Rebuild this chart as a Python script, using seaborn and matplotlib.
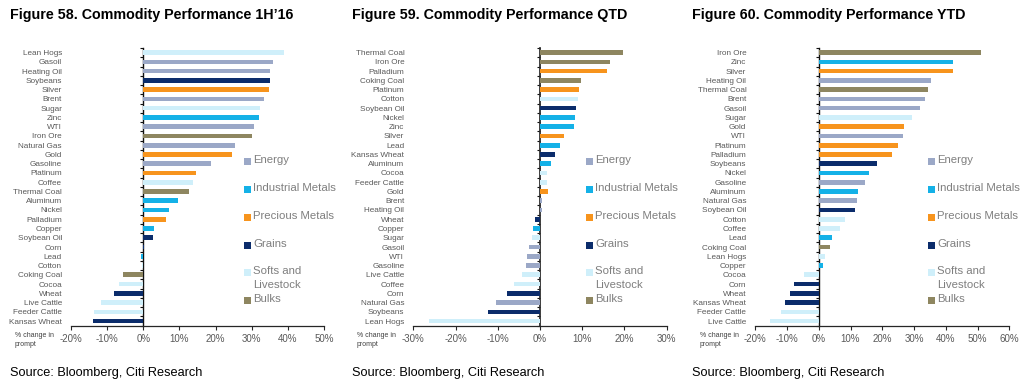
import numpy as np
import pandas as pd
import matplotlib
matplotlib.use('Agg')
import matplotlib.pyplot as plt
import seaborn as sns
from matplotlib.patches import Rectangle

sns.set_theme(style='white')
plt.rcParams['font.family'] = ['Liberation Sans', 'DejaVu Sans']

W, H = 1024, 384

# sectors
energy = ["Gasoil", "Heating Oil", "Brent", "WTI", "Natural Gas", "Gasoline"]
ind_metals = ["Zinc", "Aluminum", "Nickel", "Copper", "Lead"]
prec_metals = ["Silver", "Gold", "Platinum", "Palladium"]
grains = ["Soybeans", "Soybean Oil", "Corn", "Wheat", "Kansas Wheat"]
softs = ["Lean Hogs", "Sugar", "Coffee", "Cotton", "Cocoa", "Live Cattle", "Feeder Cattle"]
bulks = ["Iron Ore", "Thermal Coal", "Coking Coal"]

sectors = ["Energy", "Industrial Metals", "Precious Metals", "Grains", "Softs and Livestock", "Bulks"]
sector_colors = ["#9BA8C7", "#14B1E7", "#F7941D", "#0B2C6B", "#CFEFFA", "#8E8660"]

# Figure 58: 1H'16
h1_names = ["Lean Hogs", "Gasoil", "Heating Oil", "Soybeans", "Silver", "Brent", "Sugar", "Zinc",
            "WTI", "Iron Ore", "Natural Gas", "Gold", "Gasoline", "Platinum", "Coffee",
            "Thermal Coal", "Aluminum", "Nickel", "Palladium", "Copper", "Soybean Oil", "Corn",
            "Lead", "Cotton", "Coking Coal", "Cocoa", "Wheat", "Live Cattle", "Feeder Cattle",
            "Kansas Wheat"]
h1_vals = [38.8, 35.8, 35.1, 35.1, 34.8, 33.5, 32.4, 32.1, 30.6, 30.0, 25.3, 24.6, 18.6, 14.6,
           13.7, 12.7, 9.5, 7.1, 6.2, 2.9, 2.8, 0.1, -0.6, -0.4, -5.6, -6.6, -8.2, -11.8,
           -13.6, -13.8]

# Figure 59: QTD
qtd_names = ["Thermal Coal", "Iron Ore", "Palladium", "Coking Coal", "Platinum", "Cotton",
             "Soybean Oil", "Nickel", "Zinc", "Silver", "Lead", "Kansas Wheat", "Aluminum",
             "Cocoa", "Feeder Cattle", "Gold", "Brent", "Heating Oil", "Wheat", "Copper",
             "Sugar", "Gasoil", "WTI", "Gasoline", "Live Cattle", "Coffee", "Corn",
             "Natural Gas", "Soybeans", "Lean Hogs"]
qtd_vals = [19.7, 16.6, 15.9, 9.7, 9.3, 8.9, 8.5, 8.4, 8.1, 5.8, 4.8, 3.6, 2.6, 1.6, 1.6, 1.8,
            0.4, 0.4, -1.1, -1.6, -2.0, -2.7, -3.1, -3.2, -4.3, -6.2, -7.8, -10.3, -12.2,
            -26.4]

# Figure 60: YTD
ytd_names = ["Iron Ore", "Zinc", "Silver", "Heating Oil", "Thermal Coal", "Brent", "Gasoil",
             "Sugar", "Gold", "WTI", "Platinum", "Palladium", "Soybeans", "Nickel", "Gasoline",
             "Aluminum", "Natural Gas", "Soybean Oil", "Cotton", "Coffee", "Lead",
             "Coking Coal", "Lean Hogs", "Copper", "Cocoa", "Corn", "Wheat", "Kansas Wheat",
             "Feeder Cattle", "Live Cattle"]
ytd_vals = [51.0, 42.4, 42.3, 35.3, 34.5, 33.6, 31.8, 29.4, 26.7, 26.4, 25.0, 23.1, 18.3, 15.9,
            14.5, 12.3, 12.1, 11.3, 8.1, 6.7, 4.1, 3.5, 2.0, 1.3, -4.8, -7.9, -9.2, -10.7,
            -12.0, -15.4]

sector_of = {}
for sec, items in zip(sectors, [energy, ind_metals, prec_metals, grains, softs, bulks]):
    for c in items:
        sector_of[c] = sec
palette = dict(zip(sectors, sector_colors))

panels = [
    dict(title="Figure 58. Commodity Performance 1H\u201916", names=h1_names, vals=h1_vals,
         xlim=(-20, 50), left=71, width=253, tx=10, lx=244, px=15),
    dict(title="Figure 59. Commodity Performance QTD", names=qtd_names, vals=qtd_vals,
         xlim=(-30, 30), left=413.3, width=253.4, tx=352, lx=586, px=357),
    dict(title="Figure 60. Commodity Performance YTD", names=ytd_names, vals=ytd_vals,
         xlim=(-20, 60), left=755.3, width=254, tx=692, lx=928, px=700),
]

top, bottom = 48, 325.7

fig = plt.figure(figsize=(W / 100, H / 100), dpi=100)
fig.patch.set_facecolor('white')

for p in panels:
    ax = fig.add_axes([p['left'] / W, 1 - bottom / H, p['width'] / W, (bottom - top) / H])
    df = pd.DataFrame({'name': p['names'], 'val': p['vals']})
    df['sector'] = df['name'].map(sector_of)
    sns.barplot(data=df, x='val', y='name', hue='sector', palette=palette, hue_order=sectors,
                order=p['names'], dodge=False, width=0.5, saturation=1, linewidth=0,
                legend=False, orient='h', ax=ax)
    n = len(p['names'])
    lo, hi = p['xlim']
    ax.set_xlim(lo, hi)
    ax.set_ylim(n - 0.5, -0.5)
    ticks = np.arange(lo, hi + 1, 10)
    ax.set_xticks(ticks)
    ax.set_xticklabels([f"{t}%" for t in ticks])
    ax.set_xlabel('')
    ax.set_ylabel('')
    for s in ['top', 'right', 'left']:
        ax.spines[s].set_visible(False)
    ax.spines['bottom'].set_color('#262626')
    ax.spines['bottom'].set_linewidth(0.9)
    ax.tick_params(axis='x', bottom=True, direction='out', length=3, width=0.8, color='#262626',
                   labelsize=7, labelcolor='#595959', pad=3)
    ax.tick_params(axis='y', left=False, length=0, labelsize=5.9, labelcolor='#595959', pad=6.5)

    # zero line with category separators
    sec_ax = ax.secondary_yaxis(location=(0 - lo) / (hi - lo))
    sec_ax.set_yticks(np.arange(-0.5, n, 1), labels=[''] * (n + 1))
    sec_ax.yaxis.set_ticks_position('left')
    sec_ax.tick_params(axis='y', length=2.5, width=0.8, color='#111111', labelleft=False,
                       labelright=False, direction='out')
    sec_ax.spines['left'].set_color('#111111')
    sec_ax.spines['left'].set_linewidth(1.0)

    # titles and notes
    fig.text(p['tx'] / W, 1 - 15 / H, p['title'], fontsize=10.3, fontweight='bold',
             va='center', ha='left', color='black')
    fig.text(p['tx'] / W, 1 - 373 / H, "Source: Bloomberg, Citi Research", fontsize=9.2,
             va='center', ha='left', color='black')
    fig.text(p['px'] / W, 1 - 332 / H, "% change in\nprompt", fontsize=5, va='top', ha='left',
             color='#404040', linespacing=1.3)

    # legend
    for i, (sec, col) in enumerate(zip(sectors, sector_colors)):
        yc = 161.7 + 27.8 * i
        fig.add_artist(Rectangle((p['lx'] / W, 1 - (yc + 3.5) / H), 7 / W, 7 / H,
                                 transform=fig.transFigure, facecolor=col, edgecolor='none'))
        label = "Softs and\nLivestock" if sec == "Softs and Livestock" else sec
        fig.text((p['lx'] + 9) / W, 1 - (yc - 6.5) / H, label, fontsize=8.2, va='top',
                 ha='left', color='#7F7F7F', linespacing=1.45)

fig.savefig('out.png', dpi=100, facecolor='white')
